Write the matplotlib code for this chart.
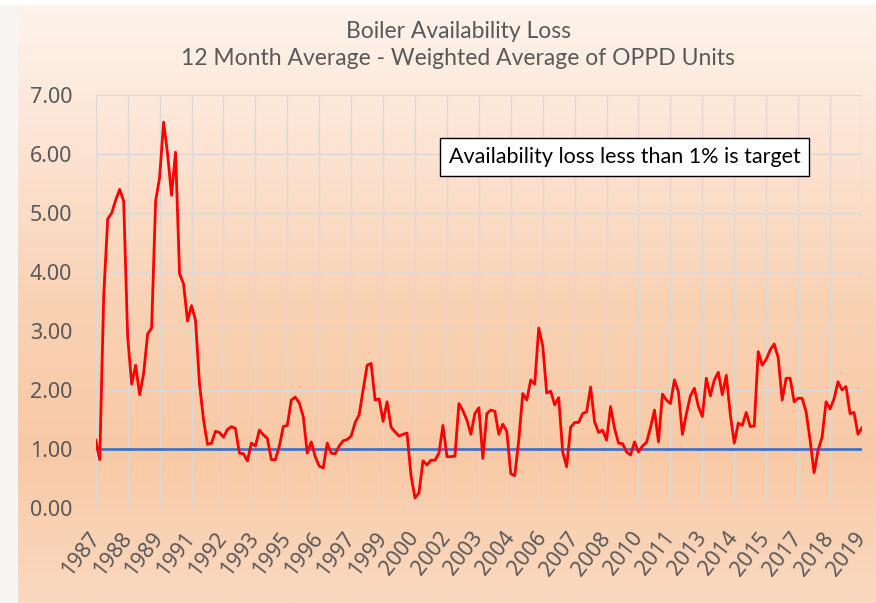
import numpy as np
import matplotlib.pyplot as plt
from matplotlib.colors import LinearSegmentedColormap

# 12-month average boiler availability loss (%), ~2-month steps
loss = [
    1.15, 0.82, 3.6, 4.9, 5.0, 5.22, 5.4, 5.2, 2.9, 2.1,
    2.42, 1.92, 2.28, 2.95, 3.05, 5.2, 5.6, 6.54, 6.0, 5.3,
    6.03, 3.97, 3.8, 3.17, 3.43, 3.18, 2.1, 1.5, 1.08, 1.1,
    1.3, 1.28, 1.2, 1.33, 1.38, 1.35, 0.93, 0.92, 0.8,
    1.1, 1.05, 1.32, 1.24, 1.18, 0.82, 0.82, 1.05, 1.38,
    1.4, 1.83, 1.88, 1.78, 1.55, 0.93, 1.12, 0.87, 0.71, 0.68,
    1.1, 0.93, 0.92, 1.05, 1.14, 1.16, 1.22, 1.45, 1.58, 2.0,
    2.42, 2.45, 1.83, 1.85, 1.47, 1.8, 1.37, 1.29, 1.22, 1.25,
    1.27, 0.55, 0.17, 0.26, 0.8, 0.73, 0.81, 0.81, 0.93, 1.4,
    0.87, 0.87, 0.88, 1.77, 1.65, 1.49, 1.25, 1.6, 1.7, 0.84,
    1.6, 1.66, 1.64, 1.25, 1.42, 1.3, 0.58, 0.55, 1.15, 1.94,
    1.83, 2.17, 2.1, 3.05, 2.75, 1.95, 1.98, 1.75, 1.87, 0.95,
    0.7, 1.37, 1.45, 1.45, 1.6, 1.63, 2.05, 1.46, 1.28, 1.32,
    1.15, 1.72, 1.35, 1.1, 1.09, 0.95, 0.9, 1.12, 0.95, 1.05,
    1.11, 1.36, 1.66, 1.12, 1.93, 1.83, 1.77, 2.17, 1.97, 1.25,
    1.6, 1.9, 2.03, 1.72, 1.55, 2.2, 1.9, 2.17, 2.3, 1.92,
    2.25, 1.59, 1.1, 1.44, 1.4, 1.62, 1.38, 1.39, 2.65, 2.42,
    2.52, 2.68, 2.78, 2.55, 1.83, 2.2, 2.2, 1.8, 1.86, 1.86,
    1.63, 1.15, 0.6, 0.98, 1.2, 1.8, 1.68, 1.85, 2.14, 2.0,
    2.06, 1.6, 1.62, 1.25, 1.36,
]
target = 1.0
year_labels = ['1987', '1988', '1989', '1991', '1992', '1993', '1995', '1996',
               '1997', '1999', '2000', '2002', '2003', '2004', '2006', '2007',
               '2008', '2010', '2011', '2013', '2014', '2015', '2017', '2018',
               '2019']
label_step = 8  # one category label every 8 points

plt.rcParams['font.family'] = ['Noto Sans', 'DejaVu Sans']

x = np.arange(len(loss))
grey = '#595959'

fig = plt.figure(figsize=(8.76, 6.03), dpi=100)

# peach gradient background
bg = fig.add_axes([0, 0, 1, 1], zorder=-2)
cmap = LinearSegmentedColormap.from_list(
    'peach', ['#fef4ec', '#fce3d2', '#f9d2b4', '#f8c9a6', '#fbd9c0'])
grad = np.linspace(0, 1, 256).reshape(-1, 1)
bg.imshow(grad, aspect='auto', cmap=cmap, extent=[0, 1, 0, 1], origin='upper')
bg.add_patch(plt.Rectangle((0, 0), 0.02, 1, color='#f7f5f4', lw=0))
bg.add_patch(plt.Rectangle((0, 0.992), 1, 0.008, color='white', lw=0))
bg.set_xlim(0, 1)
bg.set_ylim(0, 1)
bg.axis('off')

ax = fig.add_axes([0.1093, 0.1575, 0.8747, 0.685])
ax.set_facecolor('none')

ax.plot(x, loss, color='#ff0000', linewidth=2.0, zorder=3)
ax.plot(x, [target] * len(x), color='#4472c4', linewidth=2, zorder=2)

ax.set_xlim(0, len(loss) - 1)
ax.set_ylim(0, 7)
ax.set_yticks(np.arange(0, 8, 1))
ax.set_yticklabels([f'{v:.2f}' for v in range(8)])
ax.set_xticks(x[::label_step])
ax.set_xticklabels(year_labels, rotation=52, ha='right', va='center',
                   rotation_mode='anchor')
ax.grid(True, color='#d9d9d9', linewidth=1)
for s in ax.spines.values():
    s.set_visible(False)
ax.tick_params(length=0, colors=grey)
ax.tick_params(axis='y', pad=17, labelsize=15.5)
ax.tick_params(axis='x', pad=19, labelsize=15.5)

fig.text(0.523, 0.947, 'Boiler Availability Loss', ha='center', va='center',
         fontsize=16.5, color=grey, family=['Lato', 'DejaVu Sans'])
fig.text(0.523, 0.903, '12 Month Average - Weighted Average of OPPD Units',
         ha='center', va='center', fontsize=16.5, color=grey,
         family=['Lato', 'DejaVu Sans'])

ax.text(88.5, 5.95, 'Availability loss less than 1% is target', ha='left',
        va='center', fontsize=15.5, color='black', family=['Lato', 'DejaVu Sans'],
        bbox=dict(boxstyle='square,pad=0.4', fc='white', ec='black', lw=1),
        zorder=4)

plt.savefig('out.png', dpi=100)
